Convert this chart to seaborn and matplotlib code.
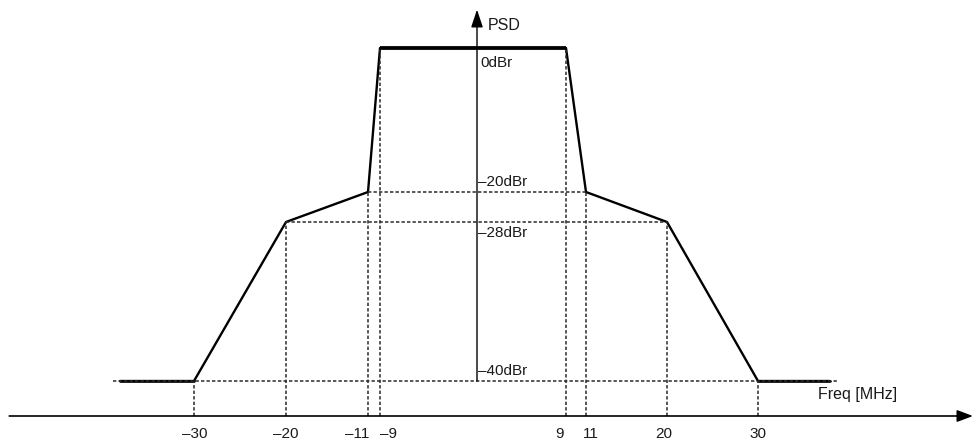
import numpy as np
import pandas as pd
import matplotlib.pyplot as plt
import seaborn as sns

# spectral mask (MHz / dBr)
freq = [-38, -30, -20, -11, -9, 9, 11, 20, 30, 38]
psd = [-40, -40, -28, -20, 0, 0, -20, -28, -40, -40]

tick_freqs = [-30, -20, -11, -9, 9, 11, 20, 30]
tick_labels = ['–30', '–20', '–11', '–9', '9', '11', '20', '30']
levels = [0, -20, -28, -40]
level_labels = ['0dBr', '–20dBr', '–28dBr', '–40dBr']

# the sketch is not to scale -> piecewise scale knots (value -> pixel)
x_knots_v = [-51, -30, -20, -11, -9, 0, 9, 11, 20, 30, 54]
x_knots_p = [0, 194, 286, 368, 380, 477, 566, 586, 667, 758, 973]
y_knots_v = [-50, -45, -40, -28, -20, 0, 10]
y_knots_p = [0, 30, 65, 224, 254, 398, 446]
axis_level = -45

sns.set_theme(style='white')
plt.rcParams['font.family'] = ['Liberation Sans', 'DejaVu Sans']
ink = '#1a1a1a'

fig = plt.figure(figsize=(9.73, 4.46), dpi=100)
ax = fig.add_axes([0, 0, 1, 1])

df = pd.DataFrame({'freq': freq, 'psd': psd})
sns.lineplot(data=df, x='freq', y='psd', sort=False, estimator=None,
             color='black', lw=1.7, ax=ax)
# heavier top and floor
ax.plot(freq[4:6], psd[4:6], color='black', lw=2.7, solid_capstyle='butt')
ax.plot(freq[:2], psd[:2], color='black', lw=1.9)
ax.plot(freq[-2:], psd[-2:], color='black', lw=1.9)

# dashed guides
dash = dict(color='#2a2a2a', lw=1.1, linestyles=(0, (2.2, 1.4)))
for f, p in zip(freq[1:-1], psd[1:-1]):
    ax.vlines(f, axis_level, p, **dash)
for lev in [-20, -28]:
    fs = [f for f, p in zip(freq, psd) if p == lev]
    ax.hlines(lev, min(fs), max(fs), **dash)
ax.hlines(-40, -38.8, 39, **dash)

# axes with arrows
ax.annotate('', xy=(54, axis_level), xytext=(-50, axis_level), annotation_clip=False,
            arrowprops=dict(arrowstyle='-|>,head_length=0.8,head_width=0.3',
                            color='black', lw=1.2, shrinkA=0, shrinkB=0))
ax.annotate('', xy=(0, 8), xytext=(0, -40), annotation_clip=False,
            arrowprops=dict(arrowstyle='-|>,head_length=0.9,head_width=0.3',
                            color='black', lw=1.0, shrinkA=0, shrinkB=0))

# level labels
lev_offsets = [(3, -8, 'top'), (1, 3, 'bottom'), (1, -4, 'top'), (1, 3, 'bottom')]
for lev, lab, (dx, dy, va) in zip(levels, level_labels, lev_offsets):
    ax.annotate(lab, xy=(0, lev), xytext=(dx, dy), textcoords='offset pixels',
                ha='left', va=va, fontsize=11, color=ink)

# frequency labels
tick_dx = [1, 0, -11, 9, -7, 5, -3, 0]
for f, lab, dx in zip(tick_freqs, tick_labels, tick_dx):
    ax.annotate(lab, xy=(f, axis_level), xytext=(dx, -18), textcoords='offset pixels',
                ha='center', va='center', fontsize=11, color=ink)

fig.text(488 / 973, 421 / 446, 'PSD', ha='left', va='center', fontsize=11.5, color=ink)
fig.text(818 / 973, 51 / 446, 'Freq [MHz]', ha='left', va='center', fontsize=11.5, color=ink)

ax.set_xscale('function', functions=(lambda v: np.interp(v, x_knots_v, x_knots_p),
                                     lambda p: np.interp(p, x_knots_p, x_knots_v)))
ax.set_yscale('function', functions=(lambda v: np.interp(v, y_knots_v, y_knots_p),
                                     lambda p: np.interp(p, y_knots_p, y_knots_v)))
ax.set_xlim(x_knots_v[0], x_knots_v[-1])
ax.set_ylim(y_knots_v[0], y_knots_v[-1])
ax.set_axis_off()

fig.savefig('out.png', dpi=100, facecolor='white')
